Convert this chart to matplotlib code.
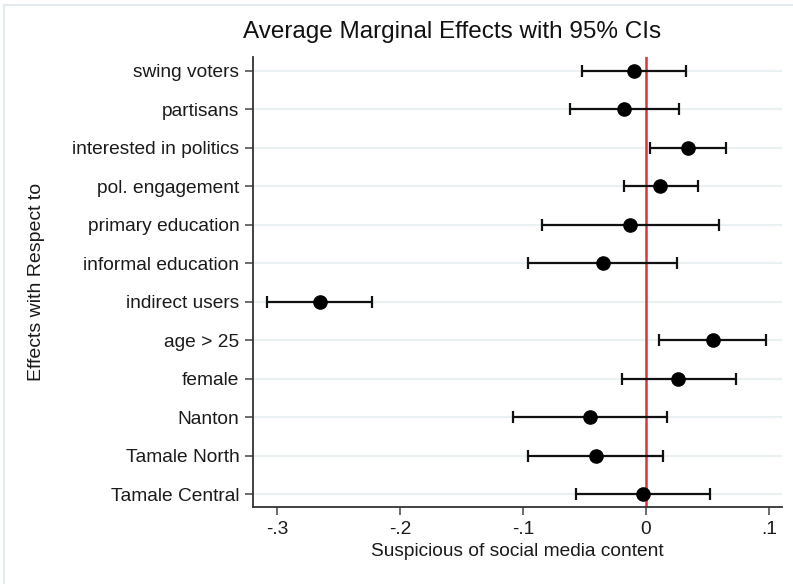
import matplotlib
matplotlib.use("Agg")
import matplotlib.pyplot as plt
from matplotlib.lines import Line2D

# coefplot data
labels = ["swing voters", "partisans", "interested in politics", "pol. engagement",
          "primary education", "informal education", "indirect users", "age > 25",
          "female", "Nanton", "Tamale North", "Tamale Central"]
effect = [-0.0098, -0.0176, 0.0338, 0.0117, -0.0129, -0.0352, -0.2652, 0.0542,
          0.0263, -0.0458, -0.0408, -0.0025]
ci_low = [-0.0523, -0.0618, 0.0031, -0.0179, -0.0844, -0.0956, -0.3080, 0.0109,
          -0.0196, -0.1082, -0.0956, -0.0570]
ci_high = [0.0324, 0.0271, 0.0654, 0.0419, 0.0595, 0.0254, -0.2230, 0.0973,
           0.0732, 0.0168, 0.0140, 0.0523]
xticks = [-0.3, -0.2, -0.1, 0, 0.1]
xticklabels = ["-.3", "-.2", "-.1", "0", ".1"]

plt.rcParams['font.family'] = ['Liberation Sans', 'DejaVu Sans']

W, H = 793, 584
fig = plt.figure(figsize=(W / 100, H / 100), dpi=100)
ax = fig.add_axes([253.3 / W, 1 - 507 / H, (781.7 - 253.3) / W, (507 - 57) / H])

ypos = list(range(1, len(labels) + 1))
grid_c = "#e9f1f3"
for y in ypos:
    ax.axhline(y, color=grid_c, lw=1.5, zorder=0)

ax.axvline(0, color="#d8343c", lw=1.8, zorder=1)

lo_err = [e - l for e, l in zip(effect, ci_low)]
hi_err = [h - e for e, h in zip(effect, ci_high)]
ax.errorbar(effect, ypos, xerr=[lo_err, hi_err], fmt='o', color='black',
            ecolor='#111111', elinewidth=1.6, capsize=4, capthick=1.6,
            markersize=9.5, zorder=3)

ax.set_xlim(-0.3193, 0.1103)
ax.set_ylim(12.33, 0.64)
ax.set_yticks(ypos)
ax.set_yticklabels(labels, fontsize=13.8, color="#1a1a1a")
ax.set_xticks(xticks)
ax.set_xticklabels(xticklabels, fontsize=13.8, color="#1a1a1a")

for s in ["top", "right"]:
    ax.spines[s].set_visible(False)
for s in ["left", "bottom"]:
    ax.spines[s].set_color("#333333")
    ax.spines[s].set_linewidth(1.3)
ax.tick_params(axis='both', length=6, width=1.1, color="#444444", pad=4)

ax.set_xlabel("Suspicious of social media content", fontsize=13.8, labelpad=4,
              color="#1a1a1a")

fig.text(37 / W, 1 - 282 / H, "Effects with Respect to", rotation=90,
         ha='center', va='center', fontsize=14, color="#1a1a1a")
fig.text(452 / W, 1 - 32 / H, "Average Marginal Effects with 95% CIs",
         ha='center', va='center', fontsize=17.5, color="#111111")

# faint frame of the screenshot
fig.add_artist(Line2D([4 / W, 1], [1 - 5 / H, 1 - 5 / H], color="#e4ecef", lw=1.5))
fig.add_artist(Line2D([4 / W, 4 / W], [0, 1 - 5 / H], color="#e4ecef", lw=1.5))

fig.savefig("out.png", dpi=100)
